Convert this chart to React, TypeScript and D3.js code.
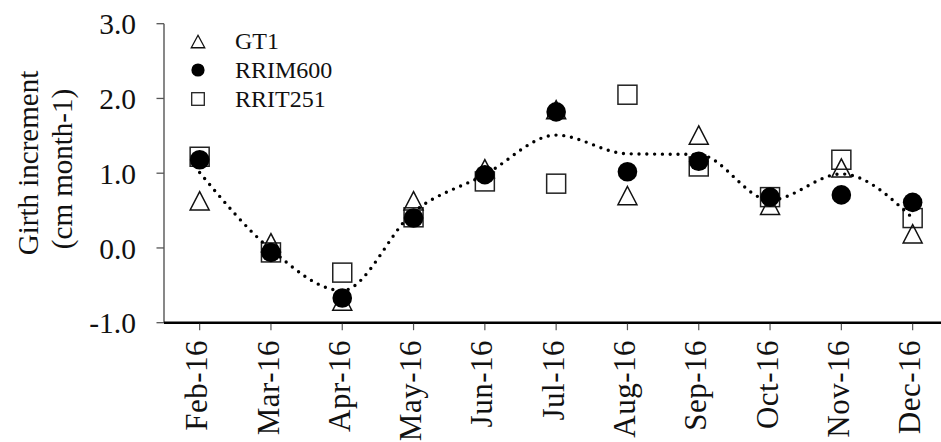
import * as d3 from "d3";
import { useEffect, useRef } from "react";

// data
const months = ["Feb-16", "Mar-16", "Apr-16", "May-16", "Jun-16", "Jul-16", "Aug-16", "Sep-16", "Oct-16", "Nov-16", "Dec-16"];
const gt1 = [0.63, 0.07, -0.71, 0.63, 1.06, 1.85, 0.70, 1.51, 0.57, 1.07, 0.19];
const rrim600 = [1.18, -0.06, -0.67, 0.40, 0.98, 1.82, 1.02, 1.16, 0.68, 0.71, 0.61];
const rrit251 = [1.22, -0.06, -0.33, 0.41, 0.89, 0.86, 2.05, 1.09, 0.68, 1.18, 0.40];
const meanLine = [1.01, -0.02, -0.57, 0.48, 0.98, 1.51, 1.26, 1.25, 0.64, 0.99, 0.40];
const yTicks = [3, 2, 1, 0, -1];
const legendNames = ["GT1", "RRIM600", "RRIT251"];

const W = 941;
const H = 442;
const FONT = "Liberation Serif, Times New Roman, DejaVu Serif, serif";

const triPath = (cx: number, cy: number, w: number, h: number) =>
    `M${cx},${cy - h / 2}L${cx + w / 2},${cy + h / 2}L${cx - w / 2},${cy + h / 2}Z`;

const App = () => {
    const chartRef = useRef<SVGSVGElement>(null);

    useEffect(() => {
        const svg = d3.select(chartRef.current);
        svg.selectAll("*").remove();
        svg.style("font-family", FONT);

        const left = 164;
        const top = 23.7;
        const bottom = 322.7;

        const x = d3.scaleBand().domain(months).range([left, left + 71.3 * months.length]);
        const cx = (m: string) => (x(m) as number) + x.bandwidth() / 2;
        const y = d3.scaleLinear().domain([-1, 3]).range([bottom, top]);
        const fmt = (v: number) => v.toFixed(1);

        // y axis
        svg.append("line")
            .attr("x1", left).attr("x2", left)
            .attr("y1", top).attr("y2", bottom)
            .attr("stroke", "#555").attr("stroke-width", 1.4);
        yTicks.forEach(t => {
            svg.append("line")
                .attr("x1", left - 7.5).attr("x2", left)
                .attr("y1", y(t)).attr("y2", y(t))
                .attr("stroke", "#555").attr("stroke-width", 1.3);
            svg.append("text")
                .attr("x", 136).attr("y", y(t))
                .attr("dy", "0.36em")
                .attr("text-anchor", "end")
                .attr("font-size", 29.5)
                .attr("fill", "#111")
                .text(fmt(t));
        });

        // x axis
        svg.append("line")
            .attr("x1", left).attr("x2", W)
            .attr("y1", bottom).attr("y2", bottom)
            .attr("stroke", "#000").attr("stroke-width", 2.5);
        months.forEach(m => {
            svg.append("line")
                .attr("x1", cx(m)).attr("x2", cx(m))
                .attr("y1", bottom + 1).attr("y2", bottom + 7.5)
                .attr("stroke", "#555").attr("stroke-width", 1.2);
            svg.append("text")
                .attr("transform", `translate(${cx(m) + 7.6},${340}) rotate(-90)`)
                .attr("text-anchor", "end")
                .attr("font-size", 31)
                .attr("letter-spacing", 0.5)
                .attr("fill", "#111")
                .text(m);
        });

        // y title
        svg.append("text")
            .attr("transform", `translate(38,163) rotate(-90)`)
            .attr("text-anchor", "middle")
            .attr("font-size", 29)
            .attr("fill", "#111")
            .text("Girth increment");
        svg.append("text")
            .attr("transform", `translate(72,169) rotate(-90)`)
            .attr("text-anchor", "middle")
            .attr("font-size", 29)
            .attr("fill", "#111")
            .text("(cm month-1)");

        // hollow markers
        svg.selectAll(".sq")
            .data(rrit251)
            .enter()
            .append("rect")
            .attr("x", (d, i) => cx(months[i]) - 9.5)
            .attr("y", d => y(d) - 9.5)
            .attr("width", 19).attr("height", 19)
            .attr("fill", "none").attr("stroke", "#222").attr("stroke-width", 1.5);
        svg.selectAll(".tri")
            .data(gt1)
            .enter()
            .append("path")
            .attr("d", (d, i) => triPath(cx(months[i]), y(d), 19, 18.3))
            .attr("fill", "none").attr("stroke", "#111").attr("stroke-width", 1.5);

        // mean line (smoothed, dotted)
        const line = d3.line<number>()
            .x((d, i) => cx(months[i]))
            .y(d => y(d))
            .curve(d3.curveMonotoneX);
        svg.append("path")
            .attr("d", line(meanLine))
            .attr("fill", "none")
            .attr("stroke", "#000")
            .attr("stroke-width", 3.4)
            .attr("stroke-linecap", "round")
            .attr("stroke-dasharray", "0 7.8");

        // filled circles
        svg.selectAll(".dot")
            .data(rrim600)
            .enter()
            .append("circle")
            .attr("cx", (d, i) => cx(months[i]))
            .attr("cy", d => y(d))
            .attr("r", 9.8)
            .attr("fill", "#000");

        // legend
        const rows = [41.5, 70, 99];
        legendNames.forEach((name, i) => {
            const ry = rows[i];
            if (i === 0) {
                svg.append("path")
                    .attr("d", triPath(198, ry, 13.5, 12.5))
                    .attr("fill", "none").attr("stroke", "#111").attr("stroke-width", 1.3);
            } else if (i === 1) {
                svg.append("circle").attr("cx", 198).attr("cy", ry).attr("r", 6.6).attr("fill", "#000");
            } else {
                svg.append("rect")
                    .attr("x", 198 - 6.3).attr("y", ry - 6.3)
                    .attr("width", 12.6).attr("height", 12.6)
                    .attr("fill", "none").attr("stroke", "#222").attr("stroke-width", 1.3);
            }
            svg.append("text")
                .attr("x", 235).attr("y", ry + 7.5)
                .attr("font-size", 24)
                .attr("fill", "#111")
                .text(name);
        });
    }, []);

    return (
        <svg ref={chartRef} width={W} height={H}
            style={{ position: "absolute", left: 0, top: 0, background: "#fff" }}></svg>
    );
};

export default App;
